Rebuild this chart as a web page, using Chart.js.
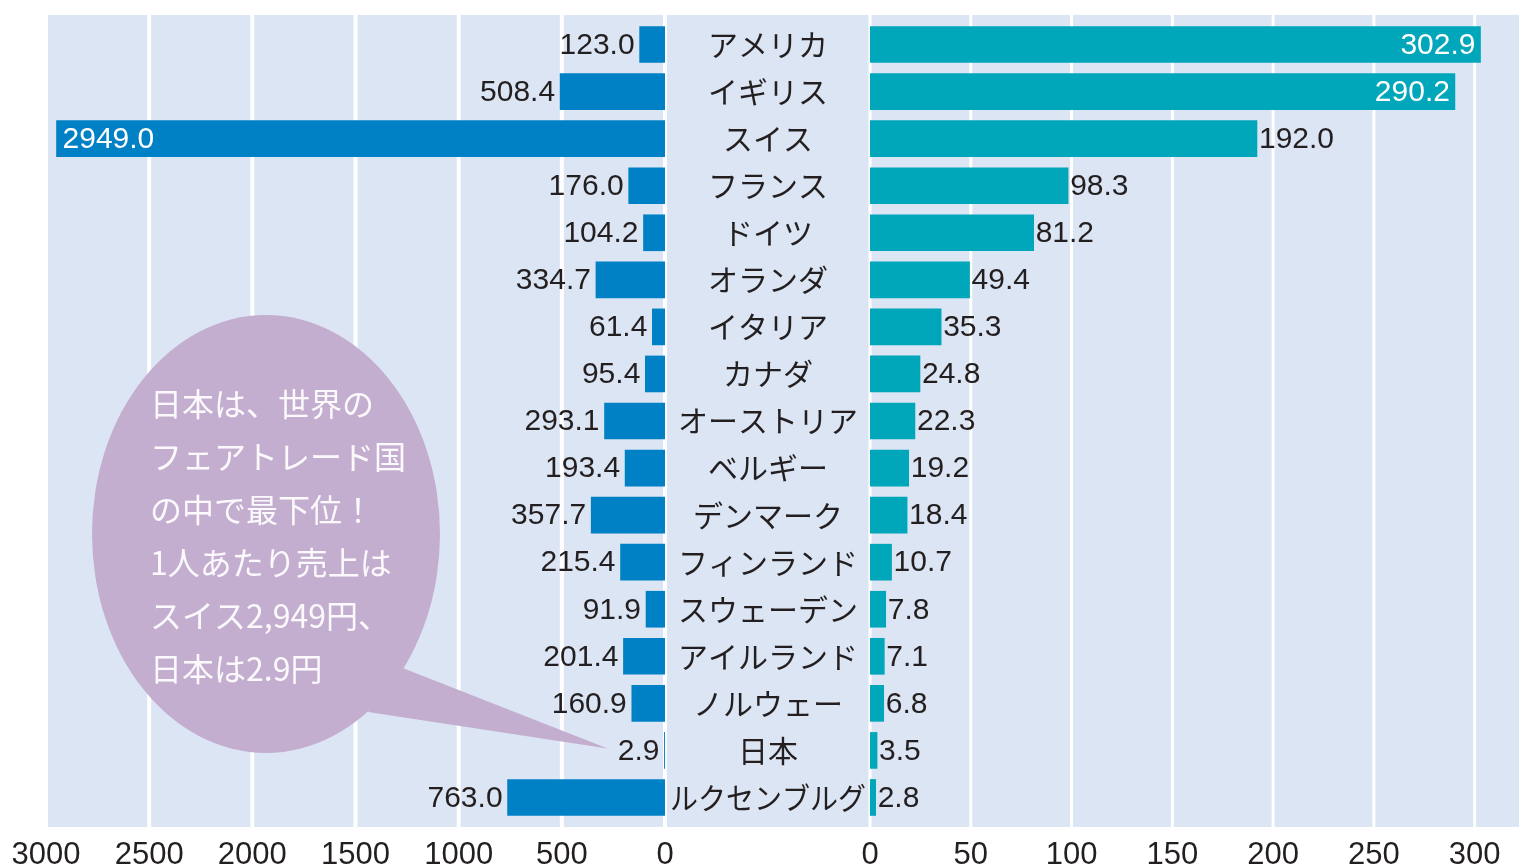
<!DOCTYPE html>
<html>
<head>
<meta charset="utf-8">
<script src="https://cdn.jsdelivr.net/npm/chart.js@4"></script>
<style>
  html, body { margin: 0; padding: 0; background: #fff; }
  #wrap { position: relative; width: 1519px; height: 865px; overflow: hidden; }
  #rightChart { position: absolute; left: 666px; top: 0; }
  #leftChart { position: absolute; left: 0; top: 0; }
</style>
</head>
<body>
<div id="wrap">
  <canvas id="rightChart" width="853" height="865"></canvas>
  <canvas id="leftChart" width="700" height="865"></canvas>
</div>
<script>
// data
const countries = ['アメリカ','イギリス','スイス','フランス','ドイツ','オランダ','イタリア','カナダ',
  'オーストリア','ベルギー','デンマーク','フィンランド','スウェーデン','アイルランド','ノルウェー','日本','ルクセンブルグ'];
const perCapita = [123.0, 508.4, 2949.0, 176.0, 104.2, 334.7, 61.4, 95.4, 293.1, 193.4, 357.7, 215.4, 91.9, 201.4, 160.9, 2.9, 763.0];
const marketSize = [302.9, 290.2, 192.0, 98.3, 81.2, 49.4, 35.3, 24.8, 22.3, 19.2, 18.4, 10.7, 7.8, 7.1, 6.8, 3.5, 2.8];
const leftTicks = [0, 500, 1000, 1500, 2000, 2500, 3000];
const rightTicks = [0, 50, 100, 150, 200, 250, 300];
const bubbleLines = ['日本は、世界の', 'フェアトレード国', 'の中で最下位！', '1人あたり売上は', 'スイス2,949円、', '日本は2.9円'];

const BG = '#dce5f3';
const TXT = '#231f20';
const NUM_FONT = '"Liberation Sans", Arial, sans-serif';
const JP_FONT = '"Noto Sans CJK JP", sans-serif';

// light blue panel + white gridlines
const panel = {
  id: 'panel',
  beforeDatasetsDraw(chart, args, opts) {
    const { ctx, chartArea: a } = chart;
    const x0 = opts.fromCanvasLeft ? 0 : a.left;
    ctx.save();
    ctx.fillStyle = BG;
    ctx.fillRect(x0, a.top - 6, a.right - x0, a.bottom - a.top + 12);
    ctx.strokeStyle = '#fff';
    ctx.lineWidth = opts.gridWidth;
    chart.scales.x.ticks.forEach(t => {
      const x = chart.scales.x.getPixelForValue(t.value);
      ctx.beginPath();
      ctx.moveTo(x, a.top - 6);
      ctx.lineTo(x, a.bottom + 6);
      ctx.stroke();
    });
    ctx.restore();
  }
};

// numbers next to / inside the bars
const valueLabels = {
  id: 'valueLabels',
  afterDatasetsDraw(chart, args, opts) {
    const { ctx, chartArea: a } = chart;
    const data = chart.data.datasets[0].data;
    ctx.save();
    ctx.font = '30px ' + NUM_FONT;
    ctx.textBaseline = 'middle';
    chart.getDatasetMeta(0).data.forEach((bar, i) => {
      const txt = data[i].toFixed(1);
      const w = ctx.measureText(txt).width;
      let x;
      if (opts.side === 'left') {
        if (bar.x - 6 - w < a.left) { ctx.fillStyle = '#fff'; ctx.textAlign = 'left'; x = bar.x + 6; }
        else { ctx.fillStyle = TXT; ctx.textAlign = 'right'; x = bar.x - 5; }
      } else {
        if (bar.x + 3 + w > a.right) { ctx.fillStyle = '#fff'; ctx.textAlign = 'right'; x = bar.x - 5; }
        else { ctx.fillStyle = TXT; ctx.textAlign = 'left'; x = bar.x + 2; }
      }
      ctx.fillText(txt, x, bar.y + 1);
    });
    ctx.restore();
  }
};

// country names in the middle column
const categoryNames = {
  id: 'categoryNames',
  afterDraw(chart) {
    const { ctx, chartArea: a } = chart;
    const y = chart.scales.y;
    ctx.save();
    ctx.font = '30px ' + JP_FONT;
    ctx.fillStyle = TXT;
    ctx.textAlign = 'center';
    ctx.textBaseline = 'middle';
    countries.forEach((c, i) => {
      ctx.fillText(c, a.left / 2, y.getPixelForValue(i), a.left - 8);
    });
    ctx.restore();
  }
};

// speech bubble
const bubble = {
  id: 'bubble',
  afterDraw(chart) {
    const { ctx } = chart;
    const jp = countries.indexOf('日本');
    const bar = chart.getDatasetMeta(0).data[jp];
    ctx.save();
    ctx.font = '30px ' + NUM_FONT;
    const tipX = bar.x - 5 - ctx.measureText(perCapita[jp].toFixed(1)).width - 10;
    const tipY = bar.y - 2;
    ctx.fillStyle = '#c4aed0';
    ctx.beginPath();
    ctx.ellipse(266, 534, 174, 219, 0, 0, Math.PI * 2);
    ctx.fill();
    ctx.beginPath();
    ctx.moveTo(395, 665);
    ctx.lineTo(tipX, tipY);
    ctx.lineTo(368, 712);
    ctx.closePath();
    ctx.fill();
    ctx.font = '32px ' + JP_FONT;
    ctx.fillStyle = 'rgba(255,255,255,0.92)';
    ctx.textBaseline = 'middle';
    ctx.textAlign = 'left';
    bubbleLines.forEach((l, i) => ctx.fillText(l, 150, 404 + i * 53));
    ctx.restore();
  }
};

function keepTicks(list) {
  return scale => { scale.ticks = list.map(v => ({ value: v })); };
}

const tickStyle = {
  color: TXT, font: { family: NUM_FONT, size: 31 }, padding: 8,
  maxRotation: 0, autoSkip: false, callback: v => String(v)
};

const leftChart = new Chart(document.getElementById('leftChart'), {
  type: 'bar',
  data: { labels: countries, datasets: [{ data: perCapita, backgroundColor: '#0080c5', barThickness: 36 }] },
  options: {
    responsive: false, animation: false, indexAxis: 'y',
    layout: { padding: { left: 46, right: 35, top: 21, bottom: 0 } },
    plugins: {
      legend: { display: false }, tooltip: { enabled: false },
      panel: { gridWidth: 4 }, valueLabels: { side: 'left' }
    },
    scales: {
      x: {
        reverse: true, min: 0, max: 3000,
        afterBuildTicks: keepTicks(leftTicks),
        afterFit: s => { s.height = 44; },
        grid: { display: false }, border: { display: false },
        ticks: tickStyle
      },
      y: { display: false }
    }
  },
  plugins: [panel, valueLabels, bubble]
});

const rightChart = new Chart(document.getElementById('rightChart'), {
  type: 'bar',
  data: { labels: countries, datasets: [{ data: marketSize, backgroundColor: '#00a6b9', barThickness: 36 }] },
  options: {
    responsive: false, animation: false, indexAxis: 'y',
    layout: { padding: { left: 0, right: 0, top: 21, bottom: 0 } },
    plugins: {
      legend: { display: false }, tooltip: { enabled: false },
      panel: { gridWidth: 3, fromCanvasLeft: true }, valueLabels: { side: 'right' }
    },
    scales: {
      x: {
        min: 0, max: 322,
        afterBuildTicks: keepTicks(rightTicks),
        afterFit: s => { s.height = 44; },
        grid: { display: false }, border: { display: false },
        ticks: tickStyle
      },
      y: {
        afterFit: s => { s.width = 204; },
        grid: { display: false }, border: { display: false },
        ticks: { display: false }
      }
    }
  },
  plugins: [panel, valueLabels, categoryNames]
});
</script>
</body>
</html>
